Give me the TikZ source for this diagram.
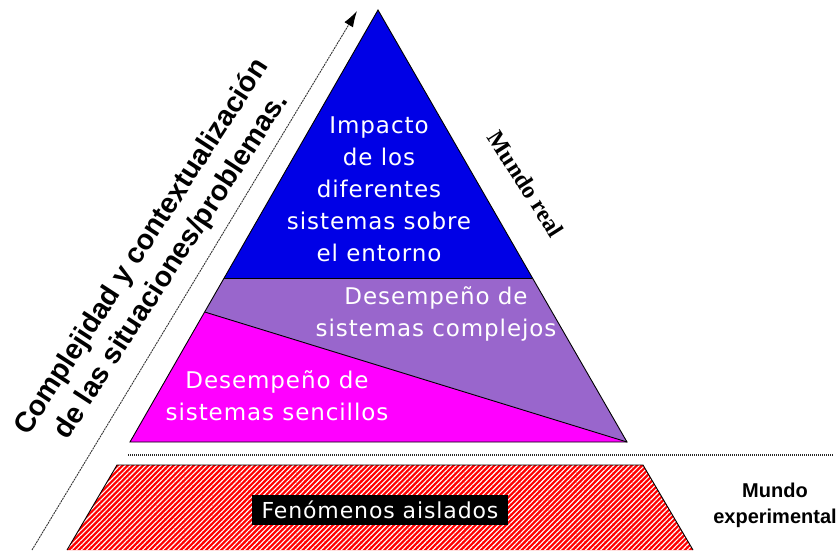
\documentclass[tikz,border=0pt]{standalone}
\usepackage{fontspec}
\setmainfont{DejaVu Sans}
\newfontfamily\wfont[LetterSpace=4]{DejaVu Sans}
\newfontfamily\arialf{Liberation Sans}
\newfontfamily\timesf{Liberation Serif}
\usetikzlibrary{arrows.meta,patterns.meta,calc}
\definecolor{pblue}{RGB}{0,0,230}
\definecolor{ppurple}{RGB}{153,102,204}
\definecolor{pmag}{RGB}{255,0,255}
\definecolor{pred}{RGB}{255,0,0}
\tikzset{
  outline/.style={draw=black, line width=0.9pt, line join=miter},
  wtext/.style={text=white, font=\wfont\fontsize{23}{32}\selectfont, align=center, inner sep=0pt},
  sidelabel/.style={font=\arialf\bfseries\fontsize{28.5}{35}\selectfont, align=center, inner sep=0pt},
  dotline/.style={draw=black!85, line width=1.8pt, dash pattern=on 1pt off 1pt},
  arrowline/.style={draw=black!80, line width=0.9pt, dash pattern=on 2pt off 0.8pt},
  arrowtip/.style={draw=black, line width=0.9pt, -{Latex[length=16pt,width=10pt]}},
}
\begin{document}
\begin{tikzpicture}[x=1pt,y=-1pt]
\useasboundingbox (0,0) rectangle (840,550);
% pyramid vertices
\coordinate (A) at (378,10);
\coordinate (BL) at (130,442);
\coordinate (BR) at (627,442);
\coordinate (bl1) at ($(A)!0.6204!(BL)$);
\coordinate (br1) at ($(A)!0.6204!(BR)$);
\coordinate (ml) at ($(A)!0.699!(BL)$);
% fills
\fill[pblue] (A) -- (bl1) -- (br1) -- cycle;
\fill[ppurple] (bl1) -- (br1) -- (BR) -- (ml) -- cycle;
\fill[pmag] (ml) -- (BR) -- (BL) -- cycle;
\draw[outline] (A) -- (BL) -- (BR) -- cycle;
\draw[outline] (bl1) -- (br1);
\draw[outline] (ml) -- (BR);
% dotted separator
\coordinate (d1) at (128,455);
\coordinate (d2) at (834,455);
\draw[dotline] (d1) -- (d2);
% red trapezoid
\coordinate (t1) at (67,550);
\coordinate (t2) at (117,465);
\coordinate (t3) at (643,465);
\coordinate (t4) at (693,550);
\fill[pred] (t1) -- (t2) -- (t3) -- (t4) -- cycle;
\fill[pattern={Lines[angle=45,distance=3.6pt,line width=1.1pt]}, pattern color=white] (t1) -- (t2) -- (t3) -- (t4) -- cycle;
\draw[outline] (t1) -- (t2) -- (t3) -- (t4);
% arrow
\coordinate (a0) at (32,550);
\coordinate (a1) at (357,11);
\coordinate (a2) at ($(a1)!14pt!(a0)$);
\draw[arrowline] (a0) -- (a2);
\draw[arrowtip] (a2) -- (a1);
% texts
\node[wtext] (impacto) at (379,189) {Impacto\\de los\\diferentes\\sistemas sobre\\el entorno};
\node[wtext] (complejos) at (436,314) {Desempeño de\\sistemas complejos};
\node[wtext] (sencillos) at (277,396) {Desempeño de\\sistemas sencillos};
\node[fill=black, text=white, font=\wfont\fontsize{22}{24}\selectfont, minimum width=256pt, minimum height=30pt, inner sep=0pt] (fen) at (380,510) {Fenómenos aislados};
\node[sidelabel, rotate=57] (compl) at (157,257) {Complejidad y contextualización\\de las situaciones/problemas.};
\node[font=\timesf\bfseries\fontsize{24}{26}\selectfont, rotate=-57.5, inner sep=0pt] (real) at (526,184) {Mundo real};
\node[font=\arialf\bfseries\fontsize{20}{26}\selectfont, align=center, inner sep=0pt] (exp) at (775,505) {Mundo\\experimental};
\end{tikzpicture}
\end{document}
